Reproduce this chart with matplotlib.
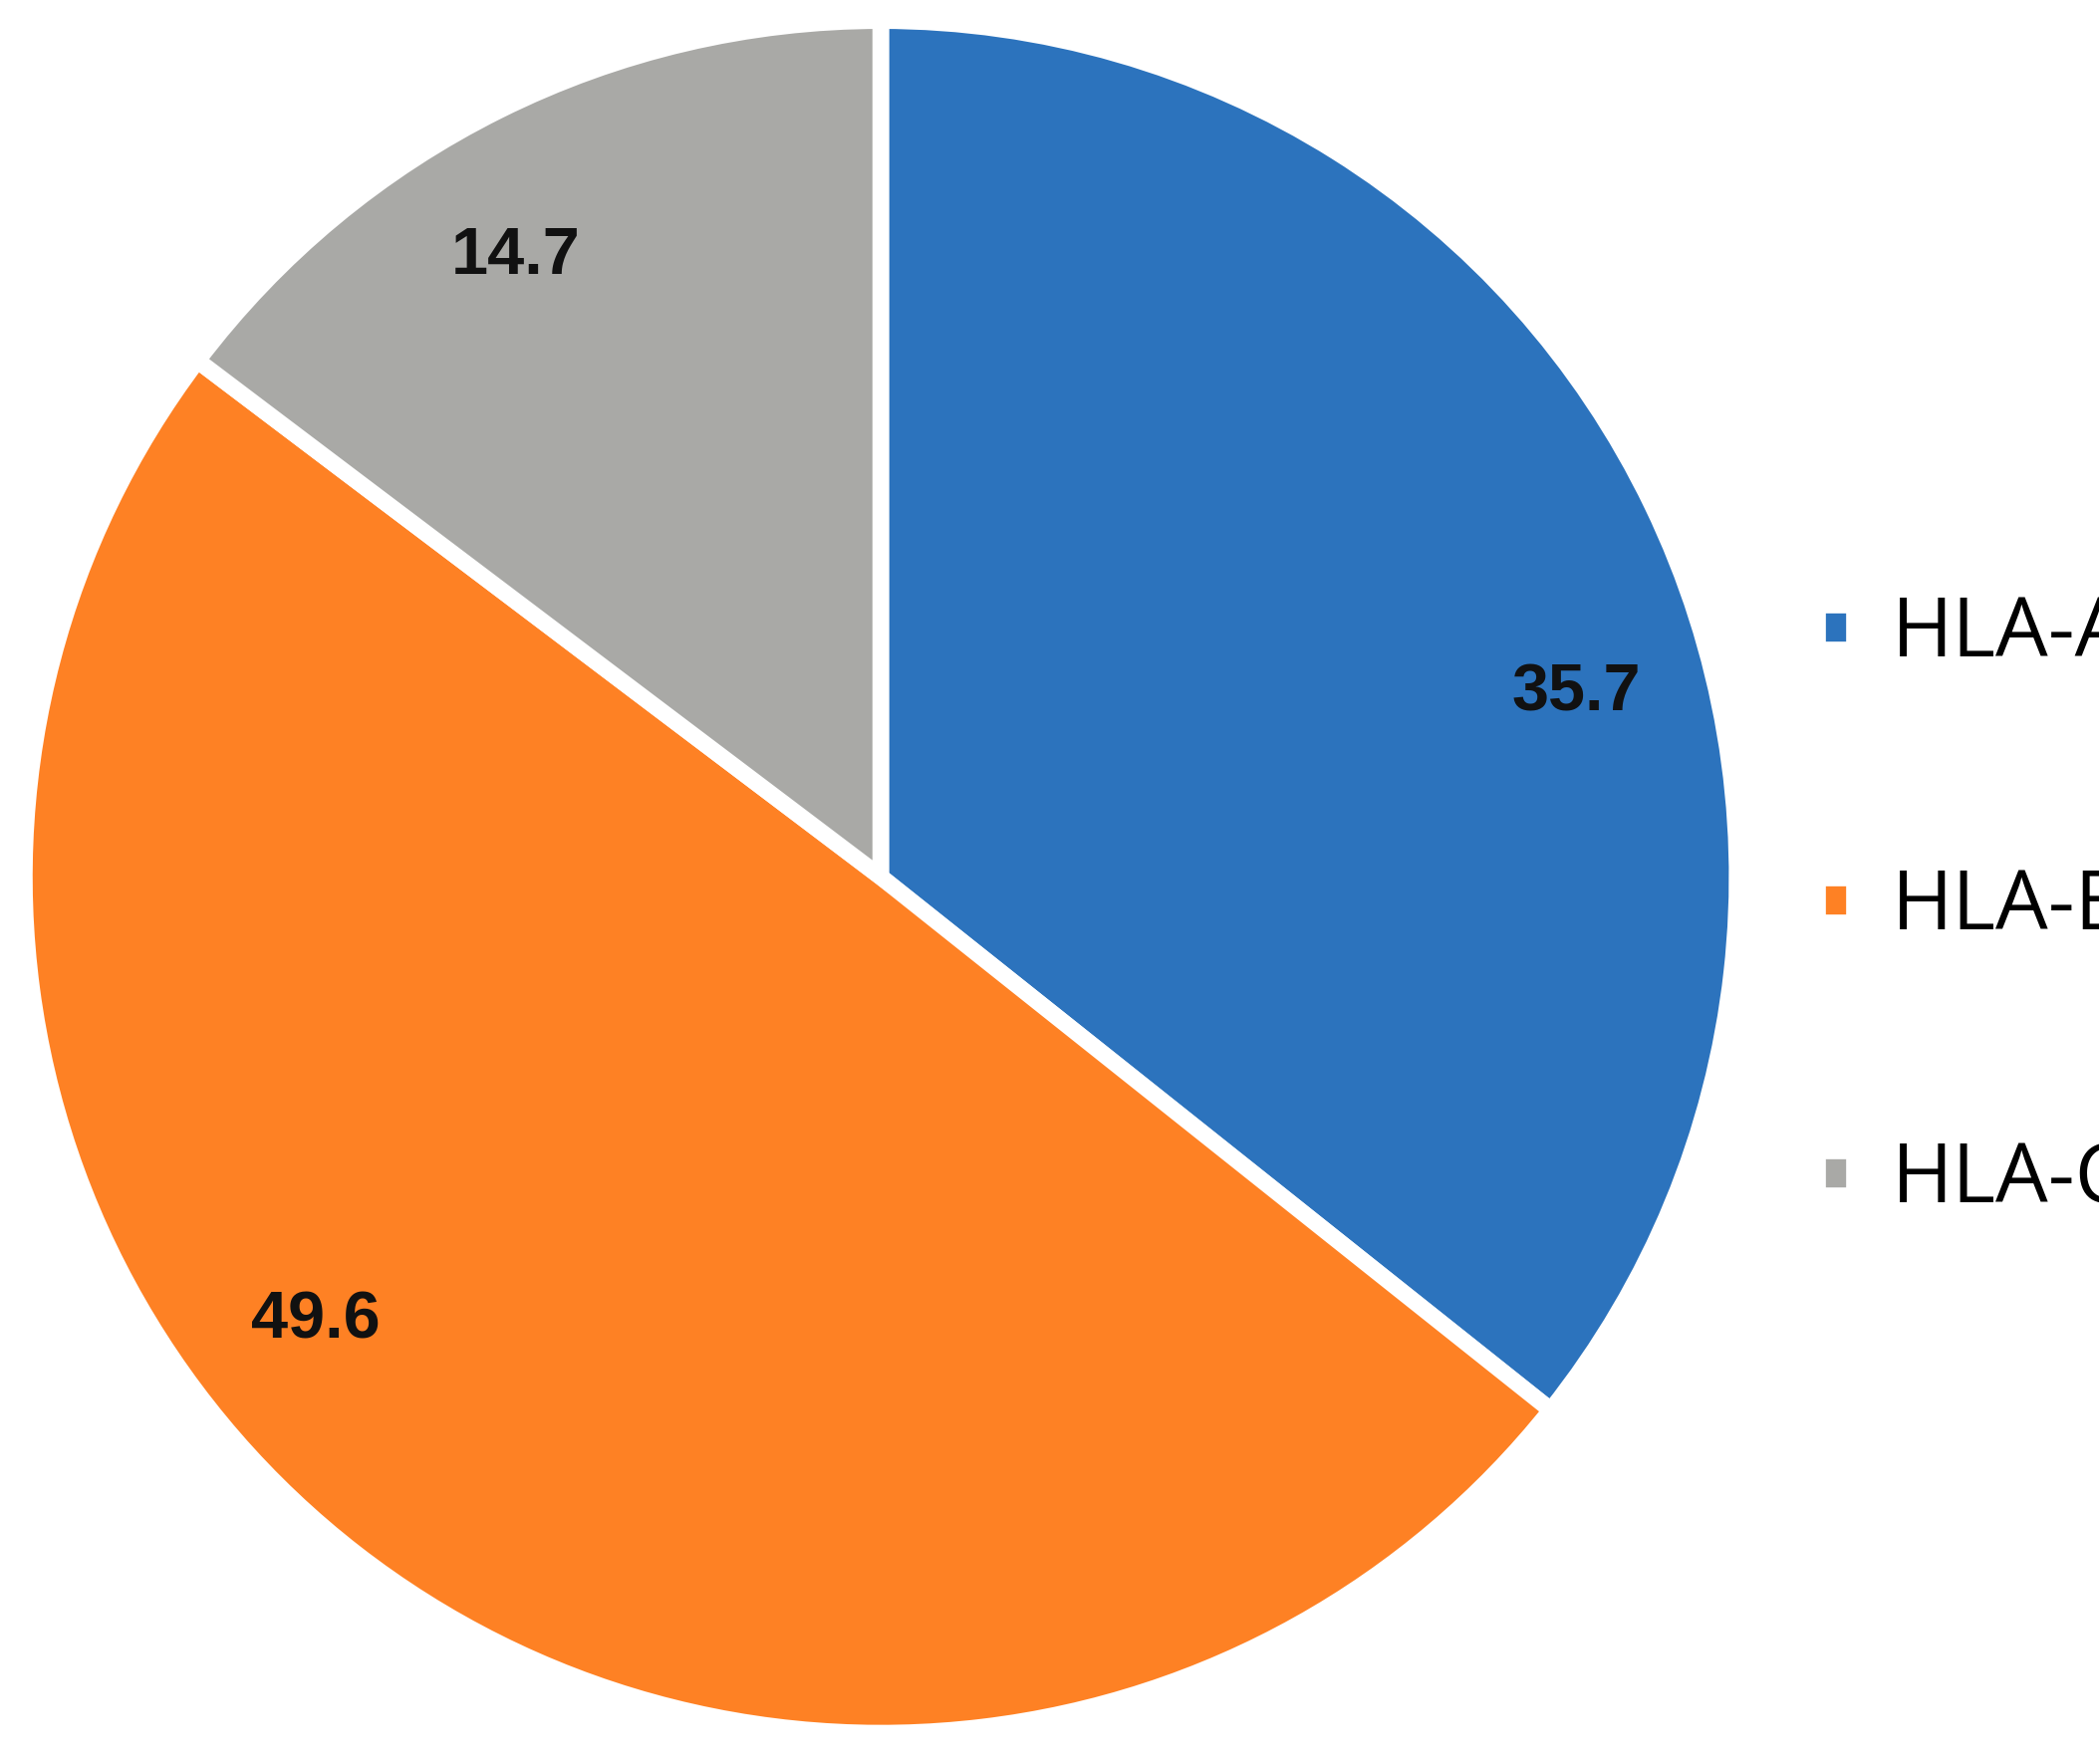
import matplotlib
matplotlib.use("Agg")
import matplotlib.pyplot as plt
import numpy as np

labels = ["HLA-A", "HLA-B", "HLA-C"]
values = [35.7, 49.6, 14.7]
colors = ["#2c73bd", "#fe8124", "#a9a9a6"]
# label nudges (degrees) to sit where the reference puts them
label_shift = [-11, -14, 4]

fig = plt.figure(figsize=(21.07, 17.71), dpi=100)
ax = fig.add_axes([0.0116, 0.0174, 0.816, 0.971])
wedges, texts, autotexts = ax.pie(
    values, colors=colors, startangle=90, counterclock=False,
    autopct=lambda p: f"{p:.1f}", pctdistance=0.84,
    wedgeprops=dict(edgecolor="white", linewidth=12),
    textprops=dict(fontsize=48, fontweight="bold", family="Liberation Sans", color="#111111"))
for w, t, s in zip(wedges, autotexts, label_shift):
    a = np.deg2rad((w.theta1 + w.theta2) / 2 + s)
    t.set_position((0.84 * np.cos(a), 0.84 * np.sin(a)))
ax.set_xlim(-1, 1); ax.set_ylim(-1, 1)
ax.set_aspect("equal")

fig.legend(wedges, labels, loc="center left", bbox_to_anchor=(0.83, 0.485),
           frameon=False, handlelength=0.45, handleheight=0.45, handletextpad=0.45,
           labelspacing=2.3, prop=dict(family="Open Sans", size=60))
fig.savefig("out.png", dpi=100)
